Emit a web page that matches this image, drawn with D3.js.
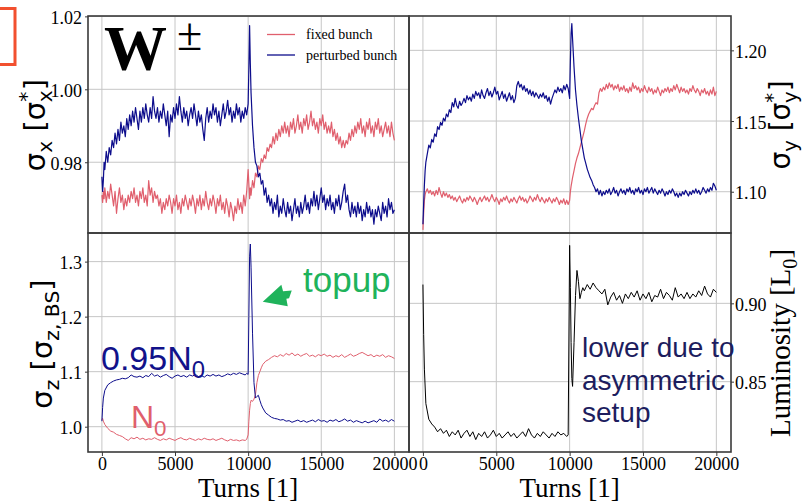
<!DOCTYPE html>
<html><head><meta charset="utf-8">
<script src="https://cdn.jsdelivr.net/npm/d3@7"></script>
<style>body{margin:0;background:#fff;} svg{display:block;} text{white-space:pre;}</style>
</head><body><svg id="c" width="806" height="503"></svg>
<script>
// ---------------- DATA ----------------
// sampling grid of the upper panels (fine) and lower panels (coarse)
const turnsFine = [0,50,100,150].concat(d3.range(200, 10000, 100), [10000,10050,10100,10150], d3.range(10200, 20001, 100));
const turns = [0,50,100,200,400,600,800,1000,1200,1400,
 1600,1800,2000,2200,2400,2600,2800,3000,3200,3400,
 3600,3800,4000,4200,4400,4600,4800,5000,5200,5400,
 5600,5800,6000,6200,6400,6600,6800,7000,7200,7400,
 7600,7800,8000,8200,8400,8600,8800,9000,9200,9400,
 9600,9800,9900,10000,10050,10100,10150,10200,10300,10400,
 10500,10600,10700,10800,10900,11000,11200,11400,11600,11800,
 12000,12200,12400,12600,12800,13000,13200,13400,13600,13800,
 14000,14200,14400,14600,14800,15000,15200,15400,15600,15800,
 16000,16200,16400,16600,16800,17000,17200,17400,17600,17800,
 18000,18200,18400,18600,18800,19000,19200,19400,19600,19800,
 20000];

const sigmaXPerturbed = [0.976,0.972,0.975,0.980,0.978,0.983,0.980,0.984,0.982,0.986,
 0.984,0.988,0.985,0.989,0.986,0.991,0.988,0.990,0.987,0.992,
 0.989,0.993,0.990,0.994,0.991,0.995,0.992,0.989,0.994,0.991,
 0.995,0.992,0.996,0.993,0.991,0.995,0.992,0.998,0.994,0.992,
 0.995,0.991,0.994,0.992,0.996,0.993,0.990,0.994,0.987,0.993,
 0.991,0.995,0.992,0.996,0.993,0.998,0.994,0.991,0.995,0.992,
 0.994,0.990,0.993,0.995,0.992,0.996,0.993,0.990,0.994,0.991,
 0.993,0.989,0.986,0.992,0.995,0.991,0.994,0.992,0.996,0.993,
 0.995,0.991,0.994,0.990,0.993,0.996,0.992,0.994,0.997,0.993,
 0.995,0.991,0.994,0.992,0.996,0.993,0.995,0.991,0.994,0.992,
 0.995,0.993,0.996,1.006,1.0175,1.007,0.999,0.990,0.984,0.980,
 0.979,0.976,0.977,0.974,0.975,0.971,0.973,0.969,0.971,0.968,
 0.970,0.966,0.969,0.967,0.971,0.965,0.968,0.966,0.970,0.967,
 0.965,0.969,0.966,0.968,0.964,0.967,0.970,0.966,0.968,0.965,
 0.969,0.966,0.968,0.971,0.967,0.969,0.966,0.970,0.968,0.972,
 0.968,0.971,0.967,0.970,0.973,0.969,0.971,0.967,0.970,0.968,
 0.971,0.967,0.969,0.966,0.970,0.968,0.971,0.967,0.969,0.972,
 0.974,0.969,0.971,0.967,0.965,0.969,0.966,0.968,0.965,0.969,
 0.966,0.968,0.964,0.967,0.965,0.969,0.966,0.968,0.965,0.967,
 0.963,0.967,0.965,0.968,0.966,0.964,0.969,0.966,0.968,0.965,
 0.970,0.967,0.969,0.966,0.967];

const sigmaXFixed = [0.971,0.969,0.972,0.970,0.973,0.969,0.972,0.970,0.974,0.971,
 0.968,0.972,0.966,0.970,0.973,0.969,0.971,0.967,0.970,0.968,
 0.971,0.969,0.972,0.970,0.973,0.969,0.971,0.968,0.972,0.970,
 0.973,0.969,0.971,0.968,0.975,0.971,0.973,0.969,0.972,0.970,
 0.971,0.968,0.970,0.966,0.969,0.967,0.970,0.968,0.971,0.969,
 0.966,0.970,0.968,0.971,0.967,0.969,0.966,0.970,0.968,0.971,
 0.969,0.967,0.970,0.968,0.971,0.969,0.966,0.970,0.968,0.971,
 0.967,0.970,0.968,0.972,0.969,0.967,0.970,0.968,0.971,0.969,
 0.966,0.970,0.968,0.971,0.967,0.969,0.966,0.970,0.968,0.965,
 0.969,0.967,0.964,0.968,0.966,0.970,0.967,0.969,0.966,0.971,
 0.968,0.972,0.978,0.974,0.970,0.973,0.971,0.975,0.973,0.977,
 0.976,0.979,0.978,0.981,0.980,0.982,0.981,0.984,0.983,0.985,
 0.984,0.987,0.985,0.988,0.986,0.989,0.987,0.990,0.988,0.991,
 0.988,0.990,0.987,0.991,0.989,0.992,0.988,0.990,0.993,0.989,
 0.991,0.988,0.992,0.990,0.993,0.989,0.991,0.994,0.990,0.992,
 0.989,0.991,0.988,0.992,0.990,0.993,0.989,0.991,0.988,0.990,
 0.988,0.991,0.987,0.989,0.986,0.988,0.985,0.987,0.984,0.986,
 0.984,0.986,0.985,0.988,0.986,0.989,0.987,0.990,0.988,0.991,
 0.989,0.992,0.988,0.990,0.987,0.991,0.989,0.992,0.988,0.990,
 0.987,0.991,0.989,0.992,0.988,0.990,0.987,0.989,0.991,0.988,
 0.990,0.987,0.991,0.988,0.986];

const sigmaYPerturbed = [1.077,1.092,1.105,1.115,1.121,1.127,1.133,1.131,1.137,1.135,
 1.141,1.139,1.146,1.144,1.149,1.147,1.152,1.150,1.155,1.153,
 1.158,1.156,1.163,1.160,1.166,1.161,1.159,1.164,1.161,1.163,
 1.166,1.163,1.168,1.165,1.167,1.164,1.169,1.166,1.171,1.168,
 1.170,1.166,1.172,1.168,1.166,1.170,1.173,1.168,1.171,1.167,
 1.170,1.174,1.169,1.171,1.165,1.168,1.171,1.166,1.169,1.164,
 1.167,1.170,1.165,1.168,1.163,1.166,1.175,1.178,1.174,1.176,
 1.172,1.175,1.171,1.173,1.169,1.172,1.168,1.171,1.167,1.170,
 1.168,1.166,1.169,1.167,1.170,1.166,1.168,1.164,1.167,1.162,
 1.166,1.169,1.172,1.170,1.174,1.171,1.173,1.170,1.175,1.172,
 1.176,1.173,1.166,1.192,1.212,1.219,1.208,1.188,1.172,1.161,
 1.152,1.144,1.136,1.130,1.124,1.120,1.116,1.113,1.110,1.108,
 1.105,1.103,1.100,1.102,1.098,1.101,1.097,1.100,1.098,1.101,
 1.099,1.102,1.098,1.100,1.103,1.099,1.101,1.097,1.100,1.102,
 1.099,1.101,1.098,1.102,1.100,1.103,1.099,1.101,1.098,1.102,
 1.100,1.103,1.099,1.101,1.098,1.102,1.100,1.103,1.099,1.101,
 1.103,1.099,1.102,1.100,1.098,1.101,1.099,1.102,1.100,1.097,
 1.100,1.098,1.101,1.099,1.102,1.100,1.097,1.099,1.096,1.099,
 1.097,1.100,1.098,1.101,1.099,1.097,1.100,1.098,1.101,1.099,
 1.102,1.099,1.101,1.098,1.100,1.103,1.101,1.099,1.102,1.100,
 1.103,1.101,1.106,1.104,1.101];

const sigmaYFixed = [1.073,1.085,1.094,1.098,1.100,1.102,1.099,1.101,1.098,1.100,
 1.097,1.101,1.098,1.103,1.099,1.096,1.100,1.097,1.099,1.096,
 1.098,1.095,1.097,1.094,1.096,1.093,1.095,1.097,1.094,1.092,
 1.095,1.093,1.096,1.094,1.097,1.095,1.093,1.096,1.094,1.091,
 1.094,1.096,1.093,1.095,1.097,1.094,1.096,1.093,1.095,1.098,
 1.095,1.093,1.096,1.094,1.091,1.095,1.093,1.096,1.094,1.097,
 1.094,1.092,1.095,1.093,1.096,1.094,1.092,1.095,1.097,1.094,
 1.096,1.093,1.095,1.092,1.094,1.097,1.095,1.093,1.096,1.094,
 1.098,1.095,1.093,1.096,1.094,1.092,1.095,1.093,1.096,1.094,
 1.092,1.095,1.093,1.096,1.094,1.091,1.094,1.092,1.095,1.091,
 1.094,1.091,1.094,1.100,1.104,1.107,1.110,1.115,1.120,1.124,
 1.127,1.131,1.135,1.139,1.143,1.148,1.152,1.155,1.157,1.159,
 1.158,1.161,1.163,1.162,1.170,1.173,1.171,1.174,1.172,1.176,
 1.173,1.177,1.174,1.176,1.172,1.175,1.173,1.176,1.171,1.174,
 1.172,1.175,1.171,1.173,1.170,1.174,1.171,1.177,1.173,1.175,
 1.172,1.174,1.170,1.173,1.171,1.175,1.172,1.170,1.174,1.171,
 1.173,1.169,1.172,1.170,1.174,1.171,1.168,1.172,1.170,1.173,
 1.171,1.174,1.170,1.173,1.171,1.175,1.172,1.176,1.173,1.170,
 1.174,1.171,1.173,1.170,1.172,1.169,1.173,1.171,1.175,1.172,
 1.170,1.173,1.171,1.168,1.172,1.170,1.173,1.169,1.171,1.168,
 1.172,1.169,1.174,1.168,1.171];

const sigmaZPerturbed = [1.010,1.035,1.052,1.066,1.076,1.080,1.083,1.085,1.086,1.088,
 1.087,1.089,1.094,1.091,1.090,1.092,1.089,1.093,1.091,1.097,
 1.092,1.094,1.090,1.093,1.095,1.091,1.088,1.092,1.094,1.091,
 1.093,1.090,1.094,1.092,1.095,1.091,1.093,1.090,1.094,1.092,
 1.095,1.092,1.094,1.091,1.093,1.096,1.094,1.097,1.095,1.098,
 1.096,1.094,1.097,1.095,1.200,1.310,1.332,1.290,1.170,1.080,
 1.052,1.055,1.057,1.048,1.040,1.034,1.025,1.021,1.017,1.015,
 1.014,1.012,1.013,1.010,1.011,1.008,1.010,1.012,1.009,1.011,
 1.008,1.010,1.012,1.009,1.013,1.010,1.011,1.008,1.012,1.010,
 1.013,1.009,1.011,1.014,1.010,1.012,1.008,1.011,1.009,1.007,
 1.010,1.007,1.009,1.011,1.008,1.014,1.010,1.012,1.009,1.013,
 1.010];

const sigmaZFixed = [1.013,1.015,1.010,1.004,0.997,0.992,0.990,0.986,0.984,0.982,
 0.978,0.975,0.980,0.978,0.981,0.977,0.979,0.976,0.978,0.977,
 0.980,0.977,0.975,0.978,0.976,0.979,0.977,0.975,0.978,0.980,
 0.977,0.976,0.979,0.977,0.975,0.978,0.976,0.979,0.977,0.976,
 0.978,0.975,0.977,0.979,0.976,0.974,0.977,0.975,0.976,0.974,
 0.976,0.975,0.977,0.985,1.010,1.030,1.042,1.048,1.046,1.050,
 1.058,1.080,1.093,1.100,1.107,1.113,1.119,1.122,1.126,1.129,
 1.127,1.131,1.128,1.133,1.130,1.134,1.129,1.132,1.128,1.131,
 1.133,1.128,1.130,1.127,1.131,1.129,1.132,1.128,1.130,1.126,
 1.129,1.127,1.131,1.126,1.129,1.132,1.128,1.130,1.133,1.135,
 1.132,1.129,1.131,1.127,1.130,1.128,1.131,1.126,1.129,1.127,
 1.124];

const luminosity = [0.912,0.880,0.858,0.836,0.826,0.823,0.821,0.818,0.820,0.817,
 0.819,0.815,0.818,0.816,0.819,0.814,0.817,0.819,0.815,0.818,
 0.813,0.817,0.815,0.818,0.814,0.816,0.819,0.815,0.817,0.814,
 0.816,0.818,0.815,0.817,0.814,0.816,0.818,0.815,0.820,0.816,
 0.814,0.817,0.815,0.818,0.816,0.814,0.817,0.815,0.818,0.816,
 0.817,0.815,0.816,0.937,0.910,0.875,0.852,0.847,0.875,0.905,
 0.921,0.914,0.903,0.907,0.910,0.908,0.912,0.909,0.913,0.910,
 0.908,0.906,0.909,0.899,0.904,0.907,0.902,0.905,0.900,0.906,
 0.903,0.907,0.904,0.908,0.902,0.906,0.903,0.907,0.901,0.905,
 0.904,0.909,0.903,0.907,0.905,0.902,0.910,0.904,0.906,0.903,
 0.907,0.903,0.906,0.904,0.908,0.905,0.911,0.906,0.904,0.909,
 0.907];

const xTicks = [0, 5000, 10000, 15000, 20000];
const yTicksSigmaX = [0.98, 1.00, 1.02];
const yTicksSigmaY = [1.10, 1.15, 1.20];
const yTicksSigmaZ = [1.0, 1.1, 1.2, 1.3];
const yTicksLumi = [0.85, 0.90];
const legendLabels = ["fixed bunch", "perturbed bunch"];

// ---------------- LAYOUT ----------------
const PINK = "#e05f6d", BLUE = "#0d0d8c", BLACK = "#000";
const GRID = "#c6c6c6", SPINE = "#3a3a3a";
const L = 88, M = 409, R = 731, T = 16, MID = 233, B = 452;
const xDomain = [-950, 21000];
const serif = "'Liberation Serif','Times New Roman',serif";
const sans = "'Liberation Sans',Arial,sans-serif";
const dsans = "'DejaVu Sans',sans-serif";

const svg = d3.select("#c");
svg.append("rect").attr("width", 806).attr("height", 503).attr("fill", "#fff");

const panels = [
  {id:"tl", x0:L, x1:M, y0:T, y1:MID, dom:[0.9606,1.0201], ticks:yTicksSigmaX, fmt:d3.format(".2f"), side:"left", xlab:false, t:turnsFine,
   series:[{v:sigmaXFixed,c:PINK,w:1.2},{v:sigmaXPerturbed,c:BLUE,w:1.2}]},
  {id:"tr", x0:M, x1:R, y0:T, y1:MID, dom:[1.0708,1.2243], ticks:yTicksSigmaY, fmt:d3.format(".2f"), side:"right", xlab:false, t:turnsFine,
   series:[{v:sigmaYFixed,c:PINK,w:1.2},{v:sigmaYPerturbed,c:BLUE,w:1.2}]},
  {id:"bl", x0:L, x1:M, y0:MID, y1:B, dom:[0.954,1.352], ticks:yTicksSigmaZ, fmt:d3.format(".1f"), side:"left", xlab:true, t:turns,
   series:[{v:sigmaZFixed,c:PINK,w:1.0},{v:sigmaZPerturbed,c:BLUE,w:1.0}]},
  {id:"br", x0:M, x1:R, y0:MID, y1:B, dom:[0.8051,0.9449], ticks:yTicksLumi, fmt:d3.format(".2f"), side:"right", xlab:true, t:turns,
   series:[{v:luminosity,c:BLACK,w:1.0}]}
];

const defs = svg.append("defs");
panels.forEach(p => {
  p.x = d3.scaleLinear().domain(xDomain).range([p.x0, p.x1]);
  p.y = d3.scaleLinear().domain(p.dom).range([p.y1, p.y0]);
  defs.append("clipPath").attr("id", "clip-" + p.id).append("rect")
    .attr("x", p.x0).attr("y", p.y0).attr("width", p.x1 - p.x0).attr("height", p.y1 - p.y0);
  const g = svg.append("g");
  g.selectAll(".vg").data(xTicks).join("line")
    .attr("x1", d => p.x(d)).attr("x2", d => p.x(d)).attr("y1", p.y0).attr("y2", p.y1)
    .attr("stroke", GRID).attr("stroke-width", 1);
  g.selectAll(".hg").data(p.ticks).join("line")
    .attr("x1", p.x0).attr("x2", p.x1).attr("y1", d => p.y(d)).attr("y2", d => p.y(d))
    .attr("stroke", GRID).attr("stroke-width", 1);
  const lg = g.append("g").attr("clip-path", `url(#clip-${p.id})`);
  p.series.forEach(s => {
    const line = d3.line().x((d, i) => p.x(p.t[i])).y(d => p.y(d));
    lg.append("path").datum(s.v).attr("d", line).attr("fill", "none")
      .attr("stroke", s.c).attr("stroke-width", s.w).attr("stroke-linejoin", "round");
  });
});

panels.forEach(p => {
  const ax = p.side === "left" ? d3.axisLeft(p.y) : d3.axisRight(p.y);
  ax.tickValues(p.ticks).tickFormat(p.fmt).tickSize(3).tickPadding(p.side === "left" ? 3 : 1);
  const ag = svg.append("g").attr("transform", `translate(${p.side === "left" ? p.x0 : p.x1},0)`).call(ax);
  ag.select(".domain").remove();
  ag.selectAll("line").attr("stroke", SPINE);
  ag.selectAll("text").attr("font-family", serif).attr("font-size", 18).attr("fill", "#000").attr("dy", "0.4em");
  if (p.xlab) {
    const bx = d3.axisBottom(p.x).tickValues(xTicks).tickFormat(d3.format("d")).tickSize(4).tickPadding(1);
    const bg = svg.append("g").attr("transform", `translate(0,${p.y1})`).call(bx);
    bg.select(".domain").remove();
    bg.selectAll("line").attr("stroke", SPINE);
    bg.selectAll("text").attr("font-family", serif).attr("font-size", 18).attr("fill", "#000");
    svg.append("text").attr("x", (p.x(0) + p.x(20000)) / 2).attr("y", 497)
      .attr("text-anchor", "middle").attr("font-family", serif).attr("font-size", 27)
      .text("Turns [1]");
  }
});
panels.forEach(p => {
  svg.append("rect").attr("x", p.x0).attr("y", p.y0).attr("width", p.x1 - p.x0).attr("height", p.y1 - p.y0)
    .attr("fill", "none").attr("stroke", SPINE).attr("stroke-width", 1.6);
});

function rich(parent, parts, size) {
  let cur = 0;
  parts.forEach(pt => {
    const off = pt.sub ? 0.24 * size : pt.sup ? -0.4 * size : 0;
    const ts = parent.append("tspan").text(pt.t)
      .attr("font-size", (pt.sub || pt.sup) ? size * 0.7 : size)
      .attr("dy", off - cur);
    if (pt.dx) ts.attr("dx", pt.dx * size);
    cur = off;
  });
}
function ylabel(x, y, parts, size, family) {
  const t = svg.append("text").attr("transform", `translate(${x},${y}) rotate(-90)`)
    .attr("text-anchor", "middle").attr("font-family", family).attr("fill", "#000");
  rich(t, parts, size);
}
ylabel(45, 125, [{t:"σ"},{t:"x",sub:true},{t:" [σ"},{t:"*",sup:true},{t:"x",sub:true,dx:-0.36},{t:"]"}], 29, dsans);
ylabel(790, 125, [{t:"σ"},{t:"y",sub:true},{t:" [σ"},{t:"*",sup:true},{t:"y",sub:true,dx:-0.36},{t:"]"}], 28, dsans);
ylabel(52, 344, [{t:"σ"},{t:"z",sub:true},{t:" [σ"},{t:"z, BS",sub:true},{t:"]"}], 29, dsans);
ylabel(790, 343, [{t:"Luminosity [L"},{t:"0",sub:true},{t:"]"}], 29, serif);

svg.append("text").attr("x", 104).attr("y", 70).attr("font-family", serif).attr("font-weight", "bold")
  .attr("font-size", 63).text("W");
svg.append("text").attr("x", 177).attr("y", 50).attr("font-family", serif).attr("font-size", 46).text("±");

const legColors = [PINK, BLUE];
legendLabels.forEach((lab, i) => {
  const yy = 34.5 + i * 20.5;
  svg.append("line").attr("x1", 267).attr("x2", 295).attr("y1", yy).attr("y2", yy)
    .attr("stroke", legColors[i]).attr("stroke-width", 1.3);
  svg.append("text").attr("x", 306).attr("y", yy + 4.5).attr("font-family", serif).attr("font-size", 14)
    .attr("fill", "#000").text(lab);
});

const bl = panels[2];
const tip = [bl.x(11000), bl.y(1.227)];
const arrowPts = [[0,0],[18.6,-17],[20.3,-10.6],[29,-11.3],[26.3,-3.6],[23.6,-3],[25,4.4]];
svg.append("path").attr("d", "M" + arrowPts.map(d => [tip[0] + d[0], tip[1] + d[1]].join(",")).join("L") + "Z")
  .attr("fill", "#1fb35b");
svg.append("text").attr("x", 303).attr("y", 292).attr("font-family", sans).attr("font-size", 35)
  .attr("fill", "#1fb35b").text("topup");
const t1 = svg.append("text").attr("x", 101).attr("y", 370).attr("font-family", sans).attr("fill", "#12128a");
rich(t1, [{t:"0.95N"},{t:"0",sub:true}], 34);
const t2 = svg.append("text").attr("x", 131).attr("y", 428).attr("font-family", sans).attr("fill", PINK);
rich(t2, [{t:"N"},{t:"0",sub:true}], 32);
["lower due to", "asymmetric", "setup"].forEach((s, i) => {
  svg.append("text").attr("x", 582).attr("y", 357 + i * 32.5).attr("font-family", sans)
    .attr("font-size", 28).attr("fill", "#1d1d5e").text(s);
});

svg.append("path").attr("d", "M0,8.5 L15,8.5 L15,64.5 L0,64.5").attr("fill", "none")
  .attr("stroke", "#f2502f").attr("stroke-width", 3);
</script></body></html>
